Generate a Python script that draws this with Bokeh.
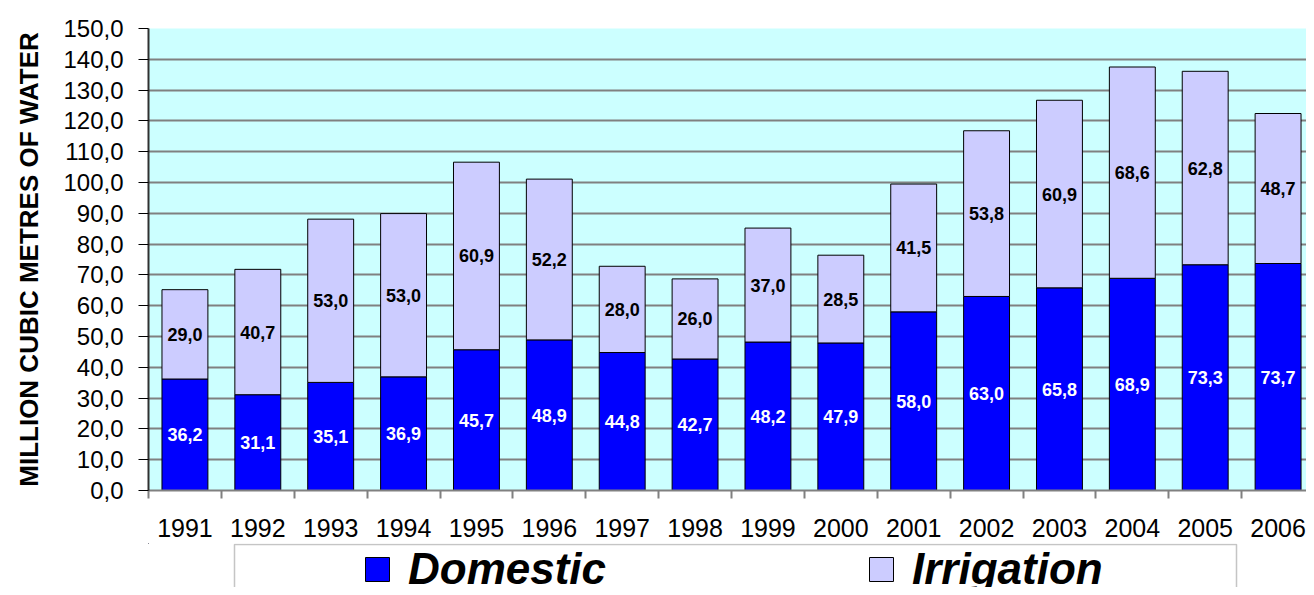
from bokeh.plotting import figure
from bokeh.models import (ColumnDataSource, FixedTicker, Legend, LegendItem,
                          BoxAnnotation)
from bokeh.layouts import column
from bokeh.core.properties import value
from bokeh.embed import file_html
from bokeh.resources import INLINE

years = ["1991", "1992", "1993", "1994", "1995", "1996", "1997", "1998",
         "1999", "2000", "2001", "2002", "2003", "2004", "2005", "2006"]
domestic = [36.2, 31.1, 35.1, 36.9, 45.7, 48.9, 44.8, 42.7,
            48.2, 47.9, 58.0, 63.0, 65.8, 68.9, 73.3, 73.7]
irrigation = [29.0, 40.7, 53.0, 53.0, 60.9, 52.2, 28.0, 26.0,
              37.0, 28.5, 41.5, 53.8, 60.9, 68.6, 62.8, 48.7]
y_ticks = [0, 10, 20, 30, 40, 50, 60, 70, 80, 90, 100, 110, 120, 130, 140, 150]
y_tick_labels = ["0,0", "10,0", "20,0", "30,0", "40,0", "50,0", "60,0", "70,0",
                 "80,0", "90,0", "100,0", "110,0", "120,0", "130,0", "140,0", "150,0"]
y_title = "MILLION CUBIC METRES OF WATER"
series_names = ["Domestic", "Irrigation"]
series_colors = ["#0000FF", "#CCCCFF"]

FONT = "Liberation Sans"

def fmt(v):
    return f"{v:.1f}".replace(".", ",")

xs = list(range(len(years)))
top_total = [d + i for d, i in zip(domestic, irrigation)]
src = ColumnDataSource(dict(
    x=xs,
    dom=domestic,
    irr=irrigation,
    tot=top_total,
    zero=[0] * len(xs),
    dom_mid=[d / 2 for d in domestic],
    irr_mid=[d + i / 2 for d, i in zip(domestic, irrigation)],
    dom_lbl=[fmt(v) for v in domestic],
    irr_lbl=[fmt(v) for v in irrigation],
))

W = 1306
LEFT = 148
p = figure(width=W, height=543, output_backend="svg", toolbar_location=None,
           x_range=(-0.5, len(years) - 0.5 - 0.11), y_range=(0, 150),
           min_border_left=LEFT, min_border_right=0, min_border_top=28,
           min_border_bottom=53)
p.outline_line_color = None
p.background_fill_color = "#CCFFFF"
p.border_fill_color = "white"

r_dom = p.vbar(x="x", bottom="zero", top="dom", width=0.63, source=src,
               fill_color=series_colors[0], line_color="black", line_width=1)
r_irr = p.vbar(x="x", bottom="dom", top="tot", width=0.63, source=src,
               fill_color=series_colors[1], line_color="black", line_width=1)

p.text(x="x", y="dom_mid", text="dom_lbl", source=src, text_color="white",
       text_font=value(FONT), text_font_style="bold", text_font_size="18px",
       text_align="center", text_baseline="middle")
p.text(x="x", y="irr_mid", text="irr_lbl", source=src, text_color="black",
       text_font=value(FONT), text_font_style="bold", text_font_size="18px",
       text_align="center", text_baseline="middle")

# grid
p.xgrid.grid_line_color = None
p.ygrid.grid_line_color = "#808080"
p.ygrid.grid_line_width = 2
p.ygrid.ticker = FixedTicker(ticks=y_ticks)

# y axis
p.yaxis.ticker = FixedTicker(ticks=y_ticks)
p.yaxis.major_label_overrides = {t: l for t, l in zip(y_ticks, y_tick_labels)}
p.yaxis.major_label_text_font = FONT
p.yaxis.major_label_text_font_size = "24px"
p.yaxis.major_label_text_color = "black"
p.yaxis.major_tick_out = 10
p.yaxis.major_tick_in = 0
p.yaxis.minor_tick_line_color = None
p.yaxis.major_tick_line_color = "black"
p.yaxis.axis_line_color = "#303030"
p.yaxis.axis_line_width = 2
p.yaxis.major_label_standoff = 15
p.yaxis.axis_label = y_title
p.yaxis.axis_label_text_font = FONT
p.yaxis.axis_label_text_font_style = "bold"
p.yaxis.axis_label_text_font_size = "26px"
p.yaxis.axis_label_text_color = "black"
p.yaxis.axis_label_standoff = 16

# x axis: labels at centres, ticks between categories
p.xaxis.ticker = FixedTicker(ticks=xs, minor_ticks=[x - 0.5 for x in xs] + [len(xs) - 0.5])
p.xaxis.major_label_overrides = {x: y for x, y in zip(xs, years)}
p.xaxis.major_label_text_font = FONT
p.xaxis.major_label_text_font_size = "25px"
p.xaxis.major_label_text_color = "black"
p.xaxis.major_tick_line_color = None
p.xaxis.major_tick_out = 0
p.xaxis.major_tick_in = 0
p.xaxis.minor_tick_line_color = "#808080"
p.xaxis.minor_tick_line_width = 2
p.xaxis.minor_tick_out = 8
p.xaxis.minor_tick_in = 0
p.xaxis.axis_line_color = "#808080"
p.xaxis.axis_line_width = 2
p.xaxis.major_label_standoff = 20

# legend strip below the chart (pixel-space layout figure)
H2 = 44
p2 = figure(width=W, height=H2, output_backend="svg", toolbar_location=None,
            x_range=(LEFT, W), y_range=(543 + H2, 543),
            x_axis_type=None, y_axis_type=None,
            min_border_left=LEFT, min_border_right=0, min_border_top=0,
            min_border_bottom=0)
p2.outline_line_color = None
p2.xgrid.grid_line_color = None
p2.ygrid.grid_line_color = None
p2.background_fill_color = "white"
p2.border_fill_color = "white"

box = BoxAnnotation(left=234, right=1236, top=544, bottom=700,
                    fill_color="white", fill_alpha=0, line_color="#404040",
                    line_width=1.5)
p2.add_layout(box)

# off-screen placeholders so the legend can draw its swatches
d_dom = p2.vbar(x=[-5000], bottom=[0], top=[1], width=1,
                fill_color=series_colors[0], line_color="black")
d_irr = p2.vbar(x=[-5000], bottom=[0], top=[1], width=1,
                fill_color=series_colors[1], line_color="black")

legend = Legend(items=[LegendItem(label=series_names[0], renderers=[d_dom]),
                       LegendItem(label=series_names[1], renderers=[d_irr])],
                location=(362 - LEFT, -7), orientation="horizontal",
                glyph_width=30, glyph_height=30, label_height=30,
                label_width=458, label_standoff=16, spacing=0, padding=0,
                margin=0, border_line_color=None, background_fill_alpha=0,
                label_text_font=FONT, label_text_font_style="bold italic",
                label_text_font_size="44px", label_text_color="black")
p2.add_layout(legend, "center")

layout = column(p, p2, spacing=0)
open("out.html", "w").write(file_html(layout, INLINE))
